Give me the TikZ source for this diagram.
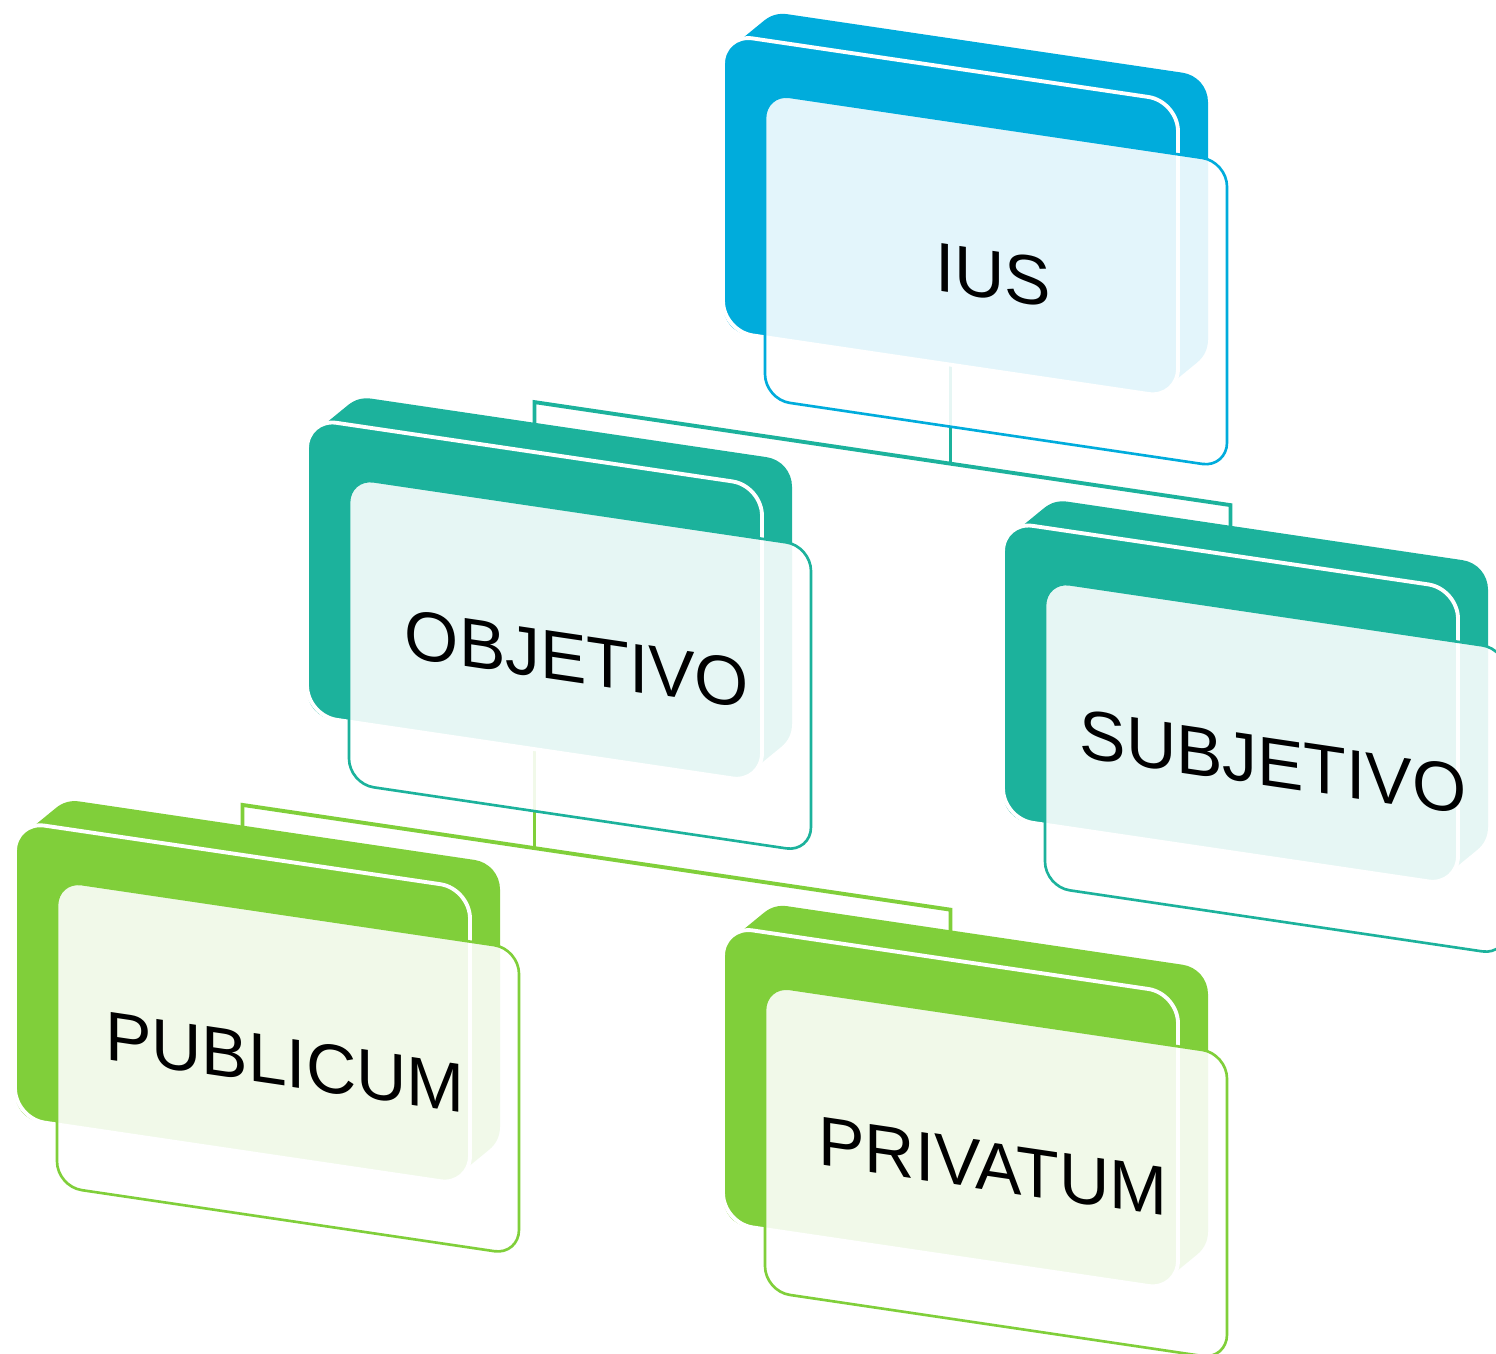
\documentclass[tikz,border=0pt]{standalone}
\usepackage{fontspec}
\setmainfont{Liberation Sans}
\definecolor{iusblue}{RGB}{0,172,220}
\definecolor{objteal}{RGB}{28,178,156}
\definecolor{pubgreen}{RGB}{128,207,58}
\tikzset{
  slab/.style={fill=#1, draw=#1, line width=6mm, line join=round},
  face/.style={fill=#1, draw=white, line width=1.1pt, rounded corners=3mm},
  glass/.style={fill=white, fill opacity=0.89, draw=#1, line width=0.75pt, rounded corners=2.5mm},
  caption/.style={inner sep=0pt, transform shape, font=\fontsize{19.8}{24}\selectfont},
  link/.style={draw=#1, line width=1.1pt},
}

\begin{document}
\begin{tikzpicture}
\useasboundingbox (0,0) rectangle (14.96,-13.53);
\begin{scope}[yslant=-0.148]
% connectors first, the cards cover their ends
\coordinate (ius-out) at (9.505,-2.0);
\coordinate (ius-fork) at (9.505,-3.23);
\coordinate (objetivo-top) at (5.345,-3.9);
\coordinate (objetivo-in) at (5.345,-3.23);
\coordinate (subjetivo-top) at (12.305,-3.9);
\coordinate (subjetivo-in) at (12.305,-3.23);
\coordinate (objetivo-out) at (5.345,-6.46);
\coordinate (objetivo-fork) at (5.345,-7.69);
\coordinate (publicum-top) at (2.425,-8.36);
\coordinate (publicum-in) at (2.425,-7.69);
\coordinate (privatum-top) at (9.505,-8.36);
\coordinate (privatum-in) at (9.505,-7.69);
\draw[link=objteal] (ius-out) -- (ius-fork);
\draw[link=objteal] (objetivo-top) -- (objetivo-in) -- (subjetivo-in) -- (subjetivo-top);
\draw[link=pubgreen] (objetivo-out) -- (objetivo-fork);
\draw[link=pubgreen] (publicum-top) -- (publicum-in) -- (privatum-in) -- (privatum-top);

% IUS
\begin{scope}[shift={(7.65,0.2)}]
\draw[slab=iusblue] (-0.12,-2.14) -- (-0.12,0.23) -- (0.18,0.52) -- (4.13,0.52) -- (4.13,-1.85) -- (3.83,-2.14) -- cycle;
\draw[face=iusblue] (-0.42,-2.44) rectangle (4.13,0.53);
\draw[glass=iusblue] (0,-3.06) rectangle (4.62,0);
\node[caption] (ius) at (2.28,-1.48) {IUS};
\end{scope}

% OBJETIVO
\begin{scope}[shift={(3.49,-4.26)}]
\draw[slab=objteal] (-0.12,-2.14) -- (-0.12,0.23) -- (0.18,0.52) -- (4.13,0.52) -- (4.13,-1.85) -- (3.83,-2.14) -- cycle;
\draw[face=objteal] (-0.42,-2.44) rectangle (4.13,0.53);
\draw[glass=objteal] (0,-3.06) rectangle (4.62,0);
\node[caption] (objetivo) at (2.28,-1.48) {OBJETIVO};
\end{scope}

% SUBJETIVO
\begin{scope}[shift={(10.45,-4.26)}]
\draw[slab=objteal] (-0.12,-2.14) -- (-0.12,0.23) -- (0.18,0.52) -- (4.13,0.52) -- (4.13,-1.85) -- (3.83,-2.14) -- cycle;
\draw[face=objteal] (-0.42,-2.44) rectangle (4.13,0.53);
\draw[glass=objteal] (0,-3.06) rectangle (4.62,0);
\node[caption] (subjetivo) at (2.28,-1.48) {SUBJETIVO};
\end{scope}

% PUBLICUM
\begin{scope}[shift={(0.57,-8.72)}]
\draw[slab=pubgreen] (-0.12,-2.14) -- (-0.12,0.23) -- (0.18,0.52) -- (4.13,0.52) -- (4.13,-1.85) -- (3.83,-2.14) -- cycle;
\draw[face=pubgreen] (-0.42,-2.44) rectangle (4.13,0.53);
\draw[glass=pubgreen] (0,-3.06) rectangle (4.62,0);
\node[caption] (publicum) at (2.28,-1.48) {PUBLICUM};
\end{scope}

% PRIVATUM
\begin{scope}[shift={(7.65,-8.72)}]
\draw[slab=pubgreen] (-0.12,-2.14) -- (-0.12,0.23) -- (0.18,0.52) -- (4.13,0.52) -- (4.13,-1.85) -- (3.83,-2.14) -- cycle;
\draw[face=pubgreen] (-0.42,-2.44) rectangle (4.13,0.53);
\draw[glass=pubgreen] (0,-3.06) rectangle (4.62,0);
\node[caption] (privatum) at (2.28,-1.48) {PRIVATUM};
\end{scope}
\end{scope}
\end{tikzpicture}
\end{document}
